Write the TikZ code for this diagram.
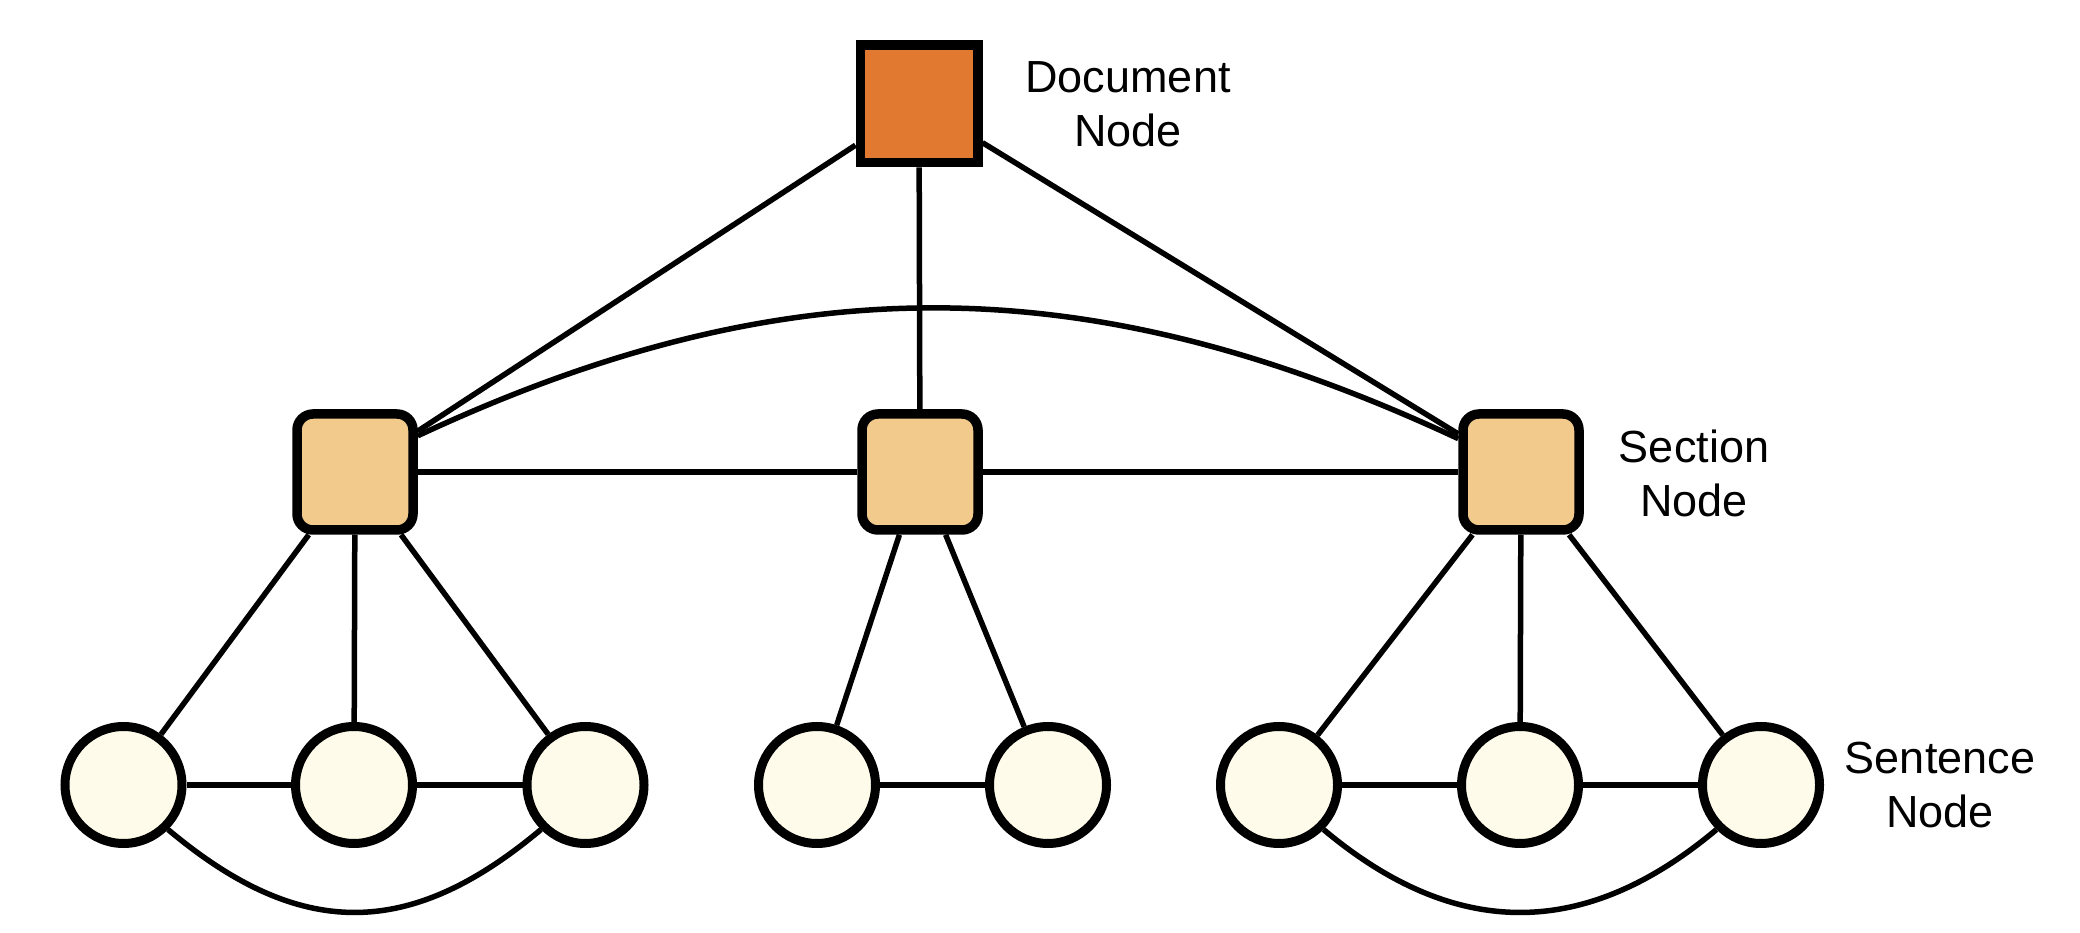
\documentclass[tikz,border=0pt]{standalone}
\usepackage{fontspec}
\setmainfont{Liberation Sans}
\definecolor{docfill}{RGB}{225,121,48}
\definecolor{secfill}{RGB}{242,202,140}
\definecolor{sentfill}{RGB}{254,251,234}
\begin{document}
\begin{tikzpicture}[x=1pt,y=1pt,
  docnode/.style={draw=black, line width=9.5pt, fill=docfill, rectangle, minimum size=117.5pt, inner sep=0pt},
  secnode/.style={draw=black, line width=9.5pt, fill=secfill, rectangle, rounded corners=16pt, minimum size=116pt, inner sep=0pt},
  sentnode/.style={draw=black, line width=9pt, fill=sentfill, circle, minimum size=117pt, inner sep=0pt},
  lbl/.style={align=center, font=\fontsize{45}{54}\selectfont, inner sep=0pt},
  edge/.style={draw=black, line width=5.5pt}
]
\useasboundingbox (0,0) rectangle (2080,932);
% nodes
\node[docnode] (doc) at (919,828) {};
\node[secnode] (s1) at (355,460) {};
\node[secnode] (s2) at (920,460) {};
\node[secnode] (s3) at (1521,460) {};
\node[sentnode] (a1) at (123.5,147) {};
\node[sentnode] (a2) at (354,147) {};
\node[sentnode] (a3) at (585.5,147) {};
\node[sentnode] (b1) at (817,147) {};
\node[sentnode] (b2) at (1048,147) {};
\node[sentnode] (c1) at (1279,147) {};
\node[sentnode] (c2) at (1520,147) {};
\node[sentnode] (c3) at (1761,147) {};
% labels
\node[lbl] (ldoc) at (1128,827.3) {Document\\Node};
\node[lbl] (lsec) at (1694,459) {Section\\Node};
\node[lbl] (lsen) at (1940,146.5) {Sentence\\Node};
% edges
\draw[edge] (doc) -- (s1);
\draw[edge] (doc) -- (s2);
\draw[edge] (doc) -- (s3);
\draw[edge] (s1.30) .. controls +(25:408) and +(155:408) .. (s3.152);
\draw[edge] (s1) -- (s2);
\draw[edge] (s2) -- (s3);
\draw[edge] (s1) -- (a1);
\draw[edge] (s1) -- (a2);
\draw[edge] (s1) -- (a3);
\draw[edge] (s2) -- (b1);
\draw[edge] (s2) -- (b2);
\draw[edge] (s3) -- (c1);
\draw[edge] (s3) -- (c2);
\draw[edge] (s3) -- (c3);
\draw[edge] (a1) -- (a2);
\draw[edge] (a2) -- (a3);
\draw[edge] (b1) -- (b2);
\draw[edge] (c1) -- (c2);
\draw[edge] (c2) -- (c3);
\draw[edge] (a1.-45) .. controls +(-40:172) and +(-140:172) .. (a3.-135);
\draw[edge] (c1.-45) .. controls +(-40:172) and +(-140:172) .. (c3.-135);
\end{tikzpicture}
\end{document}
